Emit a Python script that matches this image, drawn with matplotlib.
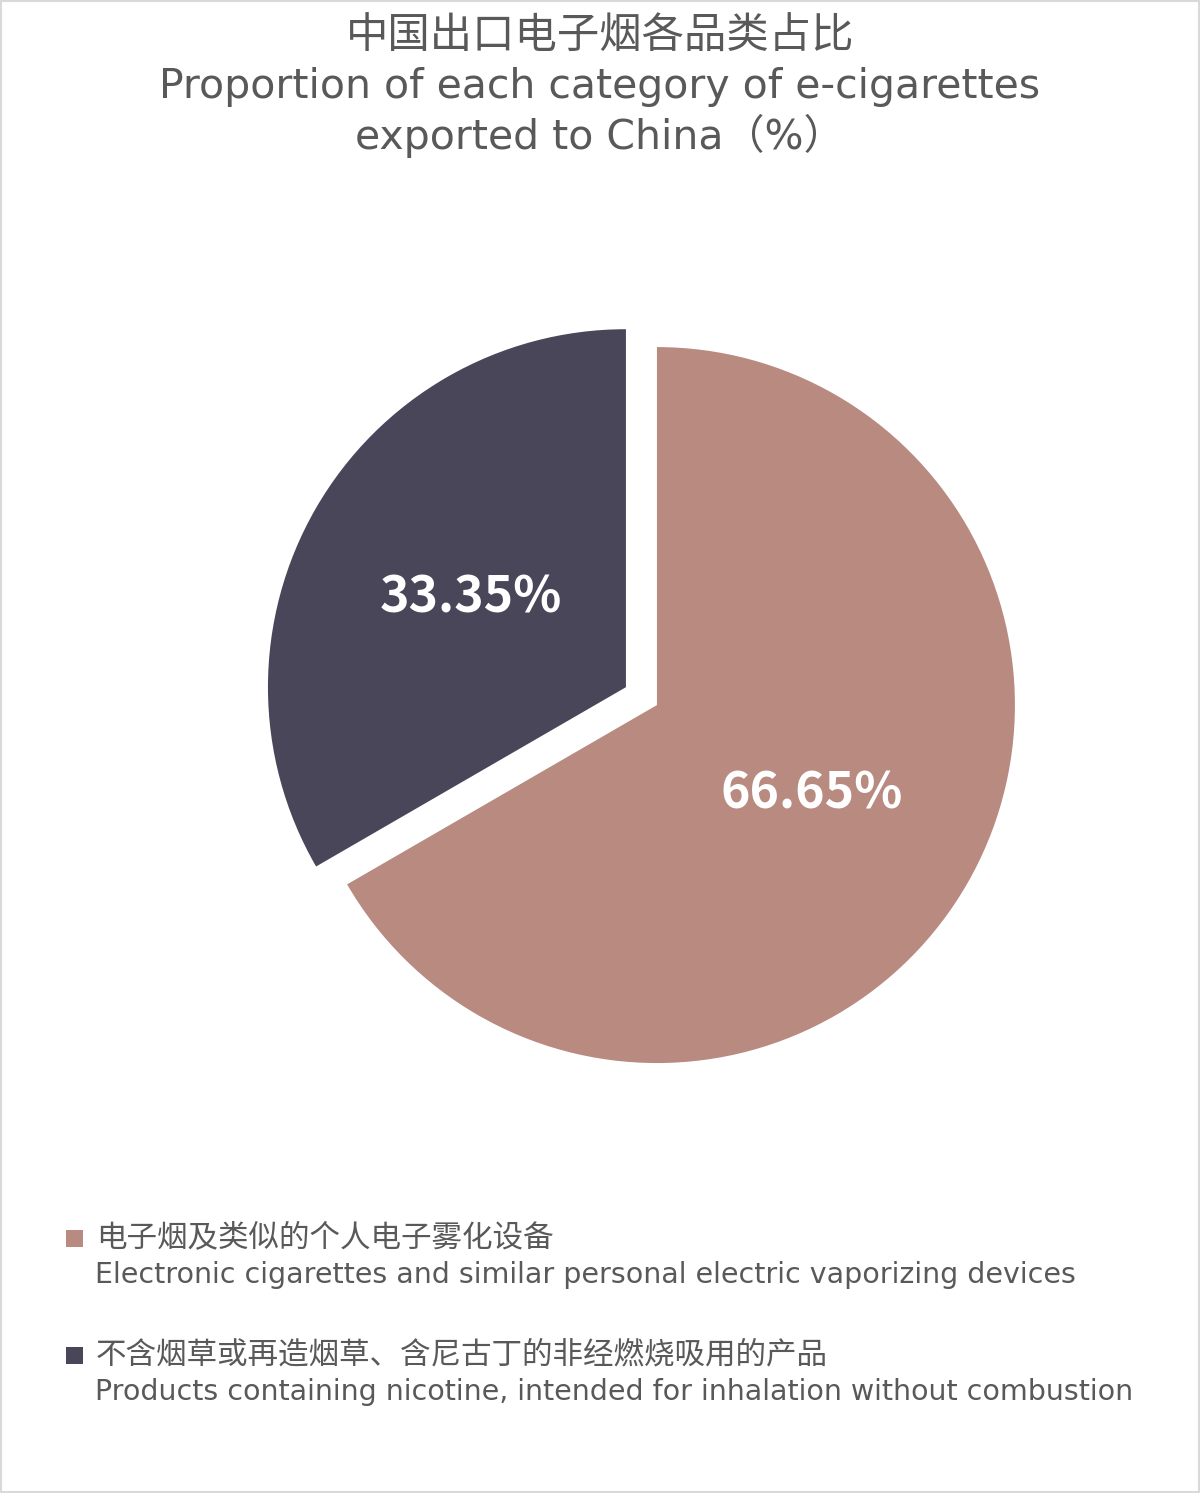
import matplotlib.pyplot as plt
from matplotlib.patches import Rectangle

plt.rcParams['font.family'] = ['DejaVu Sans', 'Noto Sans CJK SC']

# --- data ---------------------------------------------
labels_cn = ["电子烟及类似的个人电子雾化设备",
             "不含烟草或再造烟草、含尼古丁的非经燃烧吸用的产品"]
labels_en = ["Electronic cigarettes and similar personal electric vaporizing devices",
             "Products containing nicotine, intended for inhalation without combustion"]
shares = [66.65, 33.35]
colors = ["#b88a80", "#4a4659"]
explode = [0, 0.1]

grijs = "#595959"
cjk = ['Noto Sans CJK SC', 'DejaVu Sans']

# --- figure -------------------------------------------
fig = plt.figure(figsize=(12, 14.93), dpi=100)
fig.patches.append(Rectangle((0.001, 0.001), 0.998, 0.998, transform=fig.transFigure,
                             fill=False, edgecolor="#d9d9d9", linewidth=1.5))

fig.text(0.5, 1 - 37 / 1493, "中国出口电子烟各品类占比", ha="center", va="center",
         fontsize=30.5, color=grijs, family=cjk)
fig.text(0.5, 1 - 87 / 1493, "Proportion of each category of e-cigarettes", ha="center",
         va="center", fontsize=29.5, color=grijs)
fig.text(0.5, 1 - 136 / 1493, "exported to China（%）", ha="center", va="center",
         fontsize=29.5, color=grijs)

# pie: axes so that radius 1 = 358 px, centre at (657, 705)
ax = fig.add_axes([0.2193, 0.2640, 0.6563, 0.5275])
wedges, texts, autotexts = ax.pie(
    shares, colors=colors, explode=explode, startangle=90, counterclock=False,
    autopct=lambda p: f"{p:.2f}%", pctdistance=0.5,
    textprops=dict(color="white", fontsize=36, fontweight="bold", family=cjk))
ax.set_xlim(-1.1, 1.1)
ax.set_ylim(-1.1, 1.1)
ax.set_aspect("equal")
ax.axis("off")

# legend (manual)
rows_y = [1238, 1355]
for i in range(len(shares)):
    y_cn = 1 - rows_y[i] / 1493
    y_en = 1 - (rows_y[i] + 37) / 1493
    fig.patches.append(Rectangle((66 / 1200, y_cn - 9 / 1493), 17 / 1200, 17 / 1493,
                                 transform=fig.transFigure, facecolor=colors[i],
                                 edgecolor="none"))
    fig.text(96 / 1200, y_cn, labels_cn[i], ha="left", va="center",
             fontsize=22, color=grijs, family=cjk)
    fig.text(95 / 1200, y_en, labels_en[i], ha="left", va="center",
             fontsize=20.5, color=grijs)

fig.savefig("out.png", dpi=100)
